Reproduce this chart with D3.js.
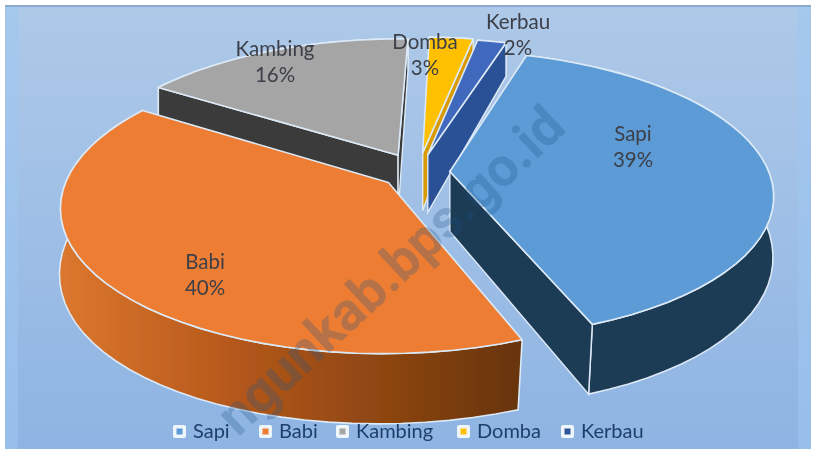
<!DOCTYPE html>
<html><head><meta charset="utf-8">
<script src="https://cdn.jsdelivr.net/npm/d3@7/dist/d3.min.js"></script>
<style>html,body{margin:0;padding:0;background:#fff;overflow:hidden}svg{display:block}</style>
</head><body><svg id="c" width="815" height="451"></svg>
<script>
const categories = ["Sapi","Babi","Kambing","Domba","Kerbau"];
const values = [39.3,40.14,16.2,2.6,1.7];
const topColors = ["#5b9bd5","#ed7d31","#a5a5a5","#ffc000","#3f68bd"];
const sideColors = ["#1f3a54","url(#babiSide)","#3b3b3b","#d99a00","#2c5196"];
const explode = [0.1,0.118,0.137,0.14,0.13];
const drawOrder = [2,3,4,1,0];
const labelPos = [[633,135],[205,263],[275,50],[425,43],[518,23]];
const legendStart=[173,259,336,457,561];
const watermark="ngunkab.bps.go.id";
const svg=d3.select("#c");
const defs=svg.append("defs");
const bg=defs.append("linearGradient").attr("id","bg").attr("x1",0).attr("y1",0).attr("x2",0).attr("y2",1);
bg.append("stop").attr("offset","0").attr("stop-color","#aec9e8");
bg.append("stop").attr("offset","1").attr("stop-color","#8eb4e3");
const bs=defs.append("linearGradient").attr("id","babiSide").attr("gradientUnits","userSpaceOnUse")
 .attr("x1",60).attr("y1",0).attr("x2",520).attr("y2",0);
bs.append("stop").attr("offset","0").attr("stop-color","#dc772e");
bs.append("stop").attr("offset","0.35").attr("stop-color","#b85a1c");
bs.append("stop").attr("offset","1").attr("stop-color","#683408");
defs.append("filter").attr("id","soft").append("feGaussianBlur").attr("stdDeviation",0.7);
const root=svg.append("g").attr("filter","url(#soft)");
root.append("rect").attr("x",5).attr("y",5).attr("width",806).attr("height",444).attr("fill","url(#bg)");
root.append("rect").attr("x",5).attr("y",5).attr("width",13).attr("height",444).attr("fill","#9fc6f0").attr("fill-opacity",0.55);
root.append("rect").attr("x",798).attr("y",5).attr("width",13).attr("height",444).attr("fill","#9fc6f0").attr("fill-opacity",0.55);
root.append("rect").attr("x",5).attr("y",5).attr("width",806).attr("height",2).attr("fill","#8ca9cf");

const total=d3.sum(values);
const pie=d3.pie().sort(null).value(d=>d).startAngle(17*Math.PI/180).endAngle((17+360)*Math.PI/180);
const arcs=pie(values);
const Cx=418,Cy=172,A=319,B=140,P=0.16;
const proj=(u,v)=>{const k=1/(1-P*v);return [Cx+A*u*k,Cy+B*v*k];};
const depth=v=>60+16.9*v-6.9*v*v;
const down=(u,v)=>{const p=proj(u,v);return [p[0]-(v>0?4*v:0),p[1]+depth(v)];};
const line=d3.line();
const angles=d=>d3.range(0,41).map(i=>d.startAngle+(d.endAngle-d.startAngle)*i/40);
const STROKE="#dce9f7";
drawOrder.forEach(i=>{
  const d=arcs[i],e=explode[i],mid=(d.startAngle+d.endAngle)/2;
  const ou=e*Math.sin(mid),ov=-e*Math.cos(mid);
  const rim=angles(d).map(a=>[ou+Math.sin(a),ov-Math.cos(a)]);
  const apex=[ou,ov];
  const g=root.append("g");
  const side=rim.map(p=>proj(...p)).concat(rim.slice().reverse().map(p=>down(...p)));
  g.append("path").attr("d",line(side)+"Z").attr("fill",sideColors[i]).attr("stroke",STROKE).attr("stroke-width",1.6);
  const wall=q=>g.append("path").attr("d",line([proj(...apex),proj(...q),down(...q),down(...apex)])+"Z")
      .attr("fill",sideColors[i]).attr("stroke",STROKE).attr("stroke-width",1.4);
  // only the walls that face the viewer are drawn
  if(Math.sin(d.startAngle)<0) wall(rim[0]);
  if(Math.sin(d.endAngle)>0) wall(rim[rim.length-1]);
  g.append("path").attr("d",line([proj(...apex),...rim.map(p=>proj(...p))])+"Z")
    .attr("fill",topColors[i]).attr("stroke",STROKE).attr("stroke-width",1.6).attr("stroke-linejoin","round");
});

root.append("text").attr("transform","translate(568,130) rotate(-43)").attr("text-anchor","end")
 .attr("font-family","Roboto, sans-serif").attr("font-weight",700).attr("font-size",54)
 .attr("fill","#1f5488").attr("fill-opacity",0.27).text(watermark);

const pct=d3.format(".0%");
const FF="Lato, 'Open Sans', sans-serif";
categories.forEach((c,i)=>{
  const t=root.append("text").attr("font-family",FF).attr("font-size",20.5).attr("fill","#3c3f48").attr("text-anchor","middle");
  t.append("tspan").attr("x",labelPos[i][0]).attr("y",labelPos[i][1]+6).text(c);
  t.append("tspan").attr("x",labelPos[i][0]).attr("y",labelPos[i][1]+32).text(pct(values[i]/total));
});

const legendColors=["#5b9bd5","#ed7d31","#a5a5a5","#ffc000","#2f5597"];
categories.forEach((c,i)=>{
  const x=legendStart[i];
  root.append("rect").attr("x",x).attr("y",425).attr("width",13).attr("height",13).attr("rx",2).attr("fill","#eef5fb");
  root.append("rect").attr("x",x+3.5).attr("y",428.5).attr("width",6).attr("height",6).attr("fill",legendColors[i]);
  root.append("text").attr("x",x+20).attr("y",438).attr("font-family",FF).attr("font-size",20).attr("fill","#1f3f6b").text(c);
});
</script></body></html>
